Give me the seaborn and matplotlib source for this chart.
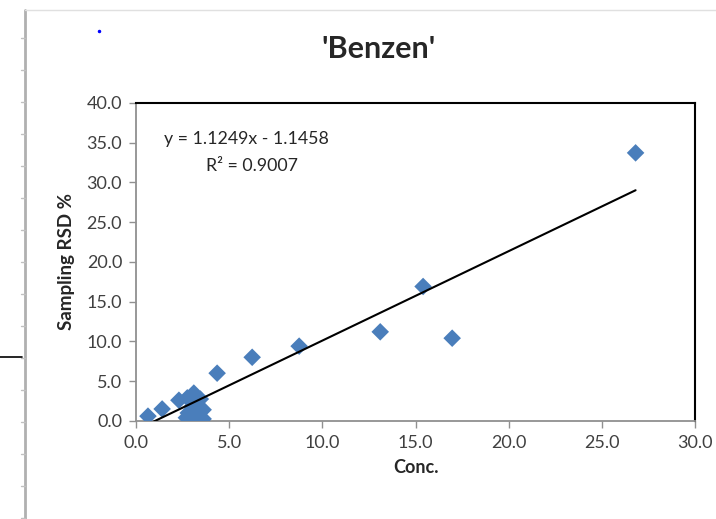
import numpy as np
import pandas as pd
import matplotlib
matplotlib.use("Agg")
import matplotlib.pyplot as plt
from matplotlib.lines import Line2D
import seaborn as sns

# =========================
# DATA
# =========================
conc = [0.64, 1.4, 2.3, 2.75, 3.1, 3.45, 2.8, 2.7, 3.2, 3.6, 3.6, 3.05,
        4.35, 6.23, 8.75, 13.1, 15.4, 16.96, 26.8]
rsd = [0.6, 1.5, 2.6, 2.9, 3.5, 2.75, 1.0, 0.4, 0.5, 1.4, 0.25, 1.9,
       6.0, 8.0, 9.4, 11.2, 16.9, 10.4, 33.7]

slope = 1.1249
intercept = -1.1458
r2 = 0.9007

x_ticks = [0, 5, 10, 15, 20, 25, 30]
y_ticks = [0, 5, 10, 15, 20, 25, 30, 35, 40]

df = pd.DataFrame({"Conc.": conc, "Sampling RSD %": rsd})

# =========================
# STYLE
# =========================
sns.set_style("white")
plt.rcParams["font.family"] = ["Lato", "DejaVu Sans"]

fig = plt.figure(figsize=(7.16, 5.19), dpi=100)
ax = fig.add_axes([0.190, 0.189, 0.781, 0.613])

sns.scatterplot(data=df, x="Conc.", y="Sampling RSD %", marker="D", s=80,
                color="#4a7ebb", edgecolor="none", ax=ax, zorder=3)

# trendline (Excel style, from min x to max x)
xs = np.array([min(conc), max(conc)])
ax.plot(xs, slope * xs + intercept, color="black", lw=1.5, zorder=4)

ax.text(5.9, 35.5, f"y = {slope}x - {abs(intercept)}", ha="center", va="center", fontsize=12.8)
ax.text(6.2, 32.0, f"R² = {r2}", ha="center", va="center", fontsize=12.8)

ax.set_xlim(0, 30)
ax.set_ylim(0, 40)
ax.set_xticks(x_ticks)
ax.set_yticks(y_ticks)
ax.set_xticklabels([f"{v:.1f}" for v in x_ticks], fontsize=13, color="#404040")
ax.set_yticklabels([f"{v:.1f}" for v in y_ticks], fontsize=13, color="#404040")
ax.tick_params(axis="both", direction="out", length=5, width=1, color="#909090",
               bottom=True, left=True, pad=5)

ax.set_xlabel("Conc.", fontsize=13, fontweight="bold", labelpad=6)
ax.set_ylabel("Sampling RSD %", fontsize=13.5, fontweight="bold", labelpad=8)

for side in ["left", "bottom"]:
    ax.spines[side].set_color("#909090")
    ax.spines[side].set_linewidth(1.3)
for side in ["top", "right"]:
    ax.spines[side].set_color("black")
    ax.spines[side].set_linewidth(1.5)

fig.text(0.528, 0.905, "'Benzen'", ha="center", va="center", fontsize=22, fontweight="bold")

# page artifacts around the chart
fig.add_artist(Line2D([25 / 716, 25 / 716], [0, 1 - 10 / 519], color="#b0b0b0", lw=2))
for py in range(38, 519, 32):
    fig.add_artist(Line2D([21 / 716, 25 / 716], [1 - py / 519, 1 - py / 519], color="#c0c0c0", lw=1))
fig.add_artist(Line2D([25 / 716, 1], [1 - 10 / 519, 1 - 10 / 519], color="#e0e0e0", lw=1))
fig.add_artist(Line2D([0, 22 / 716], [1 - 357 / 519, 1 - 357 / 519], color="black", lw=1.2))
fig.add_artist(Line2D([99 / 716], [1 - 31 / 519], marker="o", markersize=1.5, color="blue", lw=0))

fig.savefig("out.png", dpi=100)
